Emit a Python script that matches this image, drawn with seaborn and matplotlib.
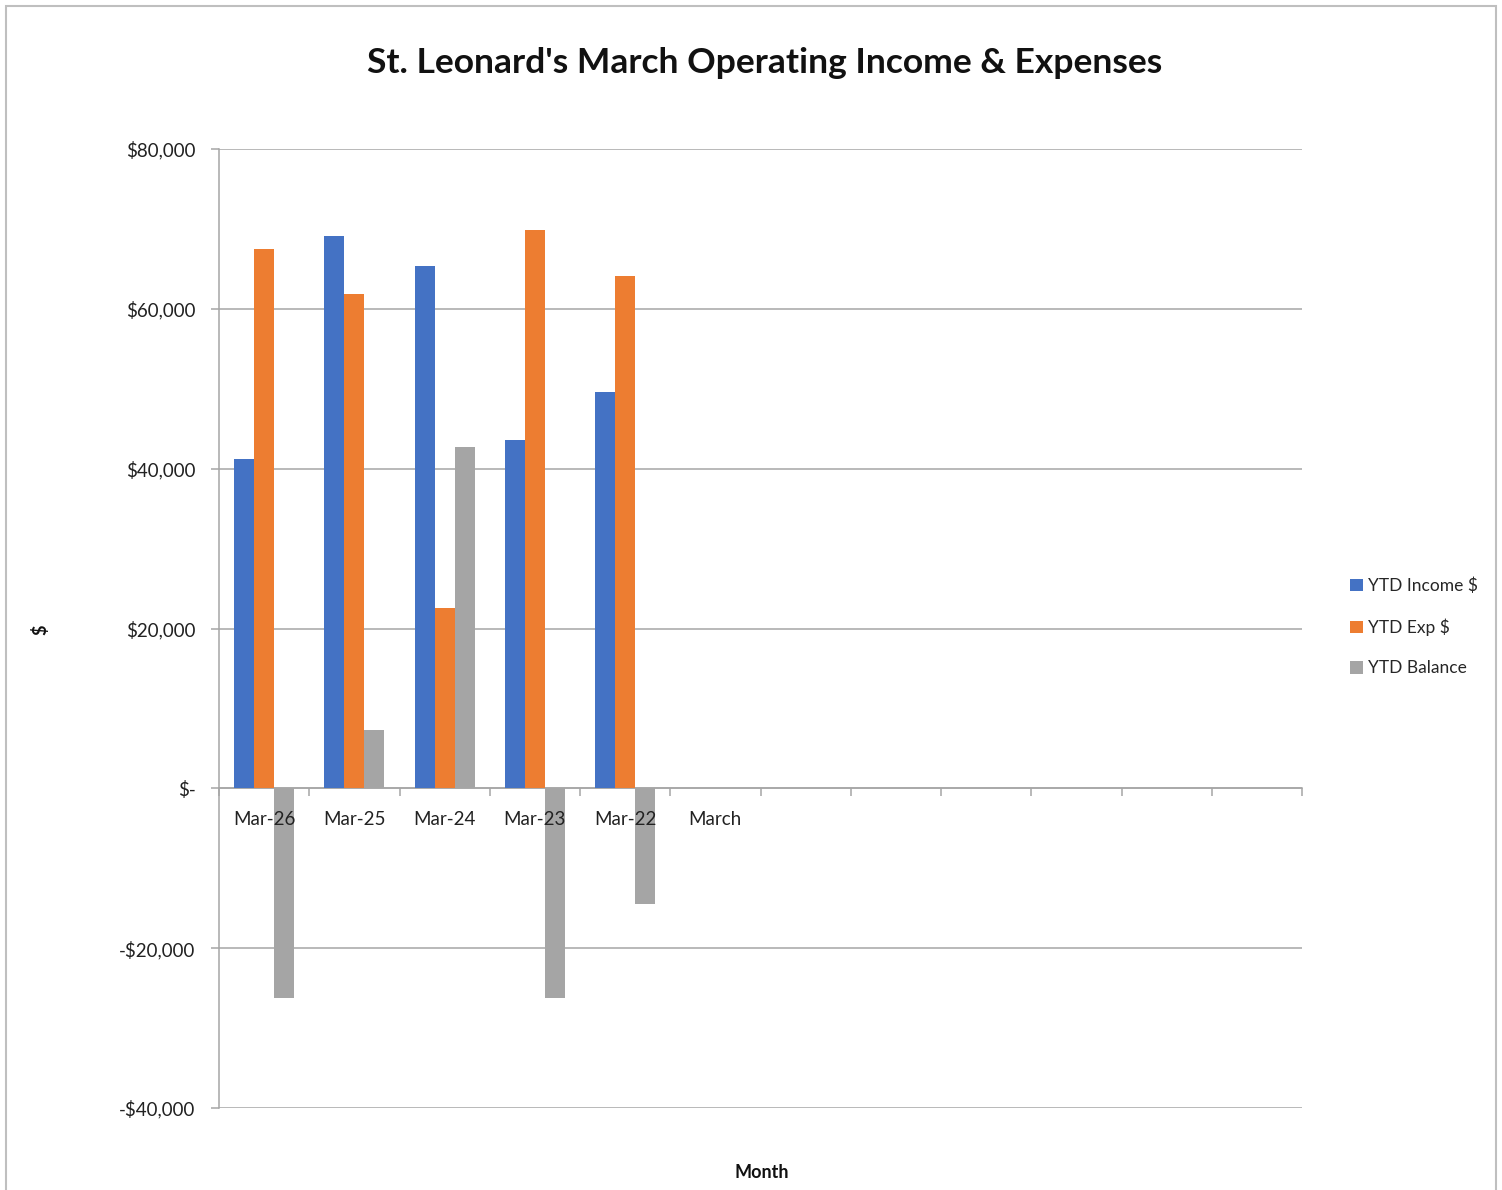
import numpy as np
import pandas as pd
import matplotlib
matplotlib.use("Agg")
import matplotlib.pyplot as plt
import seaborn as sns
from matplotlib.patches import Rectangle
from matplotlib.ticker import FuncFormatter, MultipleLocator

# ---- data ----
months = ["Mar-26", "Mar-25", "Mar-24", "Mar-23", "Mar-22", "March"]
series = ["YTD Income $", "YTD Exp $", "YTD Balance"]
income = [41250, 69125, 65375, 43625, 49625]
expenses = [67500, 61875, 22625, 69875, 64125]
balance = [-26250, 7250, 42750, -26250, -14500]
n_slots = 12
colors = ["#4472C4", "#ED7D31", "#A5A5A5"]

rows = []
for vals, s in zip([income, expenses, balance], series):
    for m, v in zip(months, vals):
        rows.append({"month": m, "series": s, "value": v})
df = pd.DataFrame(rows)

sns.set_theme(style="white")
plt.rcParams["font.family"] = ["Lato", "DejaVu Sans"]

fig = plt.figure(figsize=(15.02, 11.9), dpi=100)
ax = fig.add_axes([219/1502, 1-1108/1190, (1302-219)/1502, (1108-149)/1190])

order = months + [" " * (i + 1) for i in range(n_slots - len(months))]
sns.barplot(data=df, x="month", y="value", hue="series", order=order,
            hue_order=series, palette=colors, width=0.667, saturation=1,
            ax=ax, zorder=2, errorbar=None, linewidth=0)

ax.set_xlim(-0.5, n_slots - 0.5)
ax.set_ylim(-40000, 80000)
ax.yaxis.set_major_locator(MultipleLocator(20000))

def fmt(v, pos):
    if v == 0:
        return "$-"
    if v < 0:
        return "-${:,.0f}".format(-v)
    return "${:,.0f}".format(v)
ax.yaxis.set_major_formatter(FuncFormatter(fmt))

gc = "#a6a6a6"
ax.yaxis.grid(True, color=gc, lw=1.1)
ax.xaxis.grid(False)
ax.yaxis.set_zorder(0.5)
ax.xaxis.set_zorder(3)
for s in ["top", "right"]:
    ax.spines[s].set_visible(False)
ax.spines["left"].set_color(gc)
ax.spines["left"].set_linewidth(1.1)
ax.spines["bottom"].set_position(("data", 0))
ax.spines["bottom"].set_color(gc)
ax.spines["bottom"].set_linewidth(1.1)
ax.spines["bottom"].set_zorder(1.5)

ax.set_xticks(range(n_slots))
ax.set_xticklabels(months + [""] * (n_slots - len(months)))
ax.set_xticks(np.arange(-0.5, n_slots, 1.0), minor=True)
ax.tick_params(axis="x", which="major", length=0, pad=16.5, labelsize=13.5, labelcolor="#222222")
ax.tick_params(axis="x", which="minor", length=6, width=1.1, color=gc, direction="out", bottom=True)
ax.tick_params(axis="y", which="major", length=6, width=1.1, color=gc, direction="out",
               left=True, pad=11, labelsize=13.5, labelcolor="#222222")
ax.set_xlabel("")
ax.set_ylabel("")

ax.legend(loc="center left", bbox_to_anchor=((1343-219)/(1302-219), (1-(627)/1190 - (1-1108/1190))/((1108-149)/1190)),
          frameon=False, fontsize=12.5, handlelength=0.75, handleheight=0.75,
          handletextpad=0.3, labelspacing=1.4, borderaxespad=0)

fig.text(765/1502, 1-63/1190, "St. Leonard's March Operating Income & Expenses",
         ha="center", va="center", fontsize=25.5, fontweight="bold", color="#111111")
fig.text(762/1502, 1-1173/1190, "Month", ha="center", va="center", fontsize=13,
         fontweight="bold", color="#111111")
fig.text(40/1502, 1-630/1190, "$", ha="center", va="center", fontsize=13,
         fontweight="bold", rotation=90, color="#111111")

fig.patches.append(Rectangle((6/1502, -0.05), (1496-6)/1502, 1.05-6/1190,
                             transform=fig.transFigure, fill=False,
                             edgecolor="#bfbfbf", lw=1.5))

fig.savefig("out.png", dpi=100, facecolor="white")
